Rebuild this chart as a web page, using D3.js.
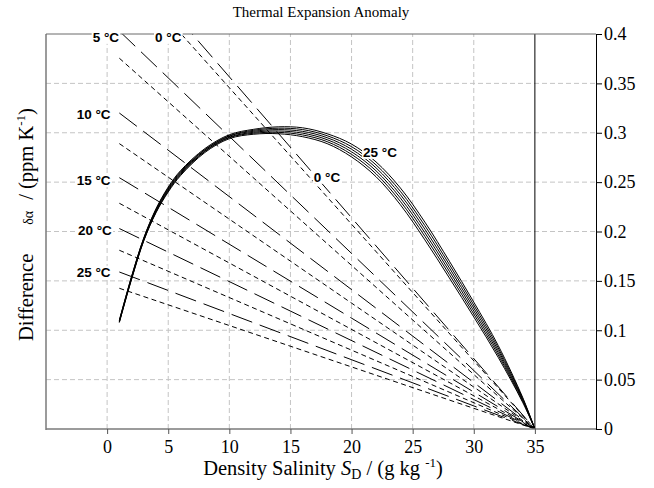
<!DOCTYPE html>
<html>
<head>
<meta charset="utf-8">
<script src="https://cdn.jsdelivr.net/npm/d3@7"></script>
<style>
body { margin: 0; background: #fff; }
text { font-family: "Liberation Serif", "Times New Roman", serif; }
.lbl { font-family: "Liberation Sans", Arial, sans-serif; font-weight: bold; font-size: 13.5px; }
</style>
</head>
<body>
<div class="chart"></div>
<script>
var width = 654, height = 488;

// density salinity grid (g/kg)
var salinity = [1, 2, 3, 4, 5, 6, 8, 10, 12, 14, 16, 18, 20, 22, 24, 26, 28, 30, 32, 34, 35];

// anomaly curves, one per temperature (ppm/K)
var anomT0  = [0.108, 0.1515, 0.1905, 0.219, 0.240, 0.2565, 0.280, 0.294, 0.2985, 0.299, 0.296, 0.289, 0.2755, 0.2555, 0.227, 0.1915, 0.153, 0.1135, 0.0725, 0.027, 0];
var anomT5  = [0.108, 0.152, 0.191, 0.2195, 0.241, 0.2575, 0.281, 0.295, 0.2995, 0.3004, 0.2978, 0.291, 0.2781, 0.2585, 0.2304, 0.1951, 0.1564, 0.1165, 0.0749, 0.028, 0];
var anomT10 = [0.109, 0.1525, 0.1915, 0.2205, 0.242, 0.2585, 0.2815, 0.2955, 0.3005, 0.3018, 0.2996, 0.293, 0.2807, 0.2615, 0.2338, 0.1987, 0.1598, 0.1195, 0.0773, 0.029, 0];
var anomT15 = [0.109, 0.1535, 0.1925, 0.2215, 0.243, 0.2595, 0.2825, 0.2965, 0.3015, 0.3032, 0.3014, 0.295, 0.2833, 0.2645, 0.2372, 0.2023, 0.1632, 0.1225, 0.0797, 0.030, 0];
var anomT20 = [0.110, 0.154, 0.193, 0.2225, 0.244, 0.2605, 0.283, 0.297, 0.3025, 0.3046, 0.3032, 0.297, 0.2859, 0.2675, 0.2406, 0.2059, 0.1666, 0.1255, 0.0821, 0.031, 0];
var anomT25 = [0.110, 0.1545, 0.1935, 0.223, 0.245, 0.2615, 0.284, 0.298, 0.3035, 0.306, 0.305, 0.299, 0.2885, 0.2705, 0.244, 0.2095, 0.170, 0.1285, 0.0845, 0.032, 0];

var temps = [0, 5, 10, 15, 20, 25];
var tempLabels = ["0 °C", "5 °C", "10 °C", "15 °C", "20 °C", "25 °C"];

// straight approximations: value at S = 1, they all go to zero at S = 35
var longDashStart  = [0.485, 0.403, 0.320, 0.2545, 0.203, 0.159];
var shortDashStart = [0.470, 0.3755, 0.289, 0.2286, 0.181, 0.1425];
var lineS0 = 1, lineS1 = 35;

var xTicks = [0, 5, 10, 15, 20, 25, 30, 35];
var yTicks = [0, 0.05, 0.1, 0.15, 0.2, 0.25, 0.3, 0.35, 0.4];
var yTickLabels = ["0", "0.05", "0.1", "0.15", "0.2", "0.25", "0.3", "0.35", "0.4"];

// where the temperature labels sit (S, anomaly)
var leftLabelS = [5.0, -0.1, -1.1, -1.1, -1.0, -1.1];
var leftLabelD = [0.397, 0.397, 0.319, 0.252, 0.2015, 0.159];
var curveLabelText = ["25 °C", "0 °C"];
var curveLabelS = [22.33, 17.99];
var curveLabelD = [0.2805, 0.2552];

var x = d3.scaleLinear().domain([-5, 40]).range([46, 596]);
var y = d3.scaleLinear().domain([0, 0.4]).range([429, 34]);

var svg = d3.select(".chart").append("svg")
  .attr("width", width)
  .attr("height", height);

svg.append("rect").attr("width", width).attr("height", height).attr("fill", "#fff");

svg.append("clipPath").attr("id", "plotclip")
  .append("rect")
  .attr("x", x(-5)).attr("y", y(0.4))
  .attr("width", x(40) - x(-5)).attr("height", y(0) - y(0.4));

// grid
var grid = svg.append("g").attr("stroke", "#c4c4c4").attr("stroke-width", 1).attr("stroke-dasharray", "5,3");
grid.selectAll(".vg").data(xTicks.slice(0, -1)).enter().append("line")
  .attr("x1", function (d) { return x(d); }).attr("x2", function (d) { return x(d); })
  .attr("y1", y(0)).attr("y2", y(0.4));
grid.selectAll(".hg").data(yTicks.slice(1, -1)).enter().append("line")
  .attr("x1", x(-5)).attr("x2", x(40))
  .attr("y1", function (d) { return y(d); }).attr("y2", function (d) { return y(d); });

var plot = svg.append("g").attr("clip-path", "url(#plotclip)");
var line = d3.line().x(function (d) { return x(d[0]); }).y(function (d) { return y(d[1]); });

function straight(v) { return [[lineS0, v], [lineS1, 0]]; }

plot.selectAll(".ld").data(longDashStart).enter().append("path")
  .attr("d", function (d) { return line(straight(d)); })
  .attr("fill", "none").attr("stroke", "#000").attr("stroke-width", 1)
  .attr("stroke-dasharray", "22,8");

plot.selectAll(".sd").data(shortDashStart).enter().append("path")
  .attr("d", function (d) { return line(straight(d)); })
  .attr("fill", "none").attr("stroke", "#000").attr("stroke-width", 1)
  .attr("stroke-dasharray", "5,3.5");

var curves = [anomT0, anomT5, anomT10, anomT15, anomT20, anomT25];
var smooth = d3.line().curve(d3.curveCatmullRom.alpha(0.5))
  .x(function (d) { return x(d[0]); }).y(function (d) { return y(d[1]); });

plot.selectAll(".cv").data(curves).enter().append("path")
  .attr("d", function (c) { return smooth(salinity.map(function (s, i) { return [s, c[i]]; })); })
  .attr("fill", "none").attr("stroke", "#000").attr("stroke-width", 1);

// reference salinity 35
svg.append("line")
  .attr("x1", x(35)).attr("x2", x(35)).attr("y1", y(0)).attr("y2", y(0.4))
  .attr("stroke", "#000").attr("stroke-width", 1);

// frame
svg.append("line").attr("x1", x(-5)).attr("x2", x(-5)).attr("y1", y(0.4)).attr("y2", y(0) + 1)
  .attr("stroke", "#7a7a7a").attr("stroke-width", 1.5);
svg.append("line").attr("x1", x(-5)).attr("x2", x(40)).attr("y1", y(0)).attr("y2", y(0))
  .attr("stroke", "#7a7a7a").attr("stroke-width", 1.5);
svg.append("line").attr("x1", x(-5)).attr("x2", x(40)).attr("y1", y(0.4)).attr("y2", y(0.4))
  .attr("stroke", "#6a6a6a").attr("stroke-width", 1);

// bottom axis
var xAxis = svg.append("g").attr("transform", "translate(0," + y(0) + ")")
  .call(d3.axisBottom(x).tickValues(xTicks).tickSize(5).tickPadding(6).tickFormat(d3.format("d")));
xAxis.select(".domain").remove();
xAxis.selectAll("line").attr("stroke", "#555");
xAxis.selectAll("text").attr("font-size", 18).attr("font-family", "Liberation Serif, serif").attr("fill", "#000");

// right axis
var yAxis = svg.append("g").attr("transform", "translate(" + x(40) + ",0)")
  .call(d3.axisRight(y).tickValues(yTicks).tickSize(6).tickPadding(2)
    .tickFormat(function (d, i) { return yTickLabels[i]; }));
yAxis.select(".domain").attr("stroke", "#000").attr("d", "M0.5," + y(0.4) + "V" + y(0));
yAxis.selectAll("line").attr("stroke", "#000");
yAxis.selectAll("text").attr("font-size", 18).attr("font-family", "Liberation Serif, serif").attr("fill", "#000");

// labels with white backing
function addLabel(t, px, py) {
  var g = svg.append("g");
  var bg = g.append("rect").attr("fill", "#fff");
  var tx = g.append("text").attr("class", "lbl")
    .attr("x", px).attr("y", py).attr("dy", "0.36em")
    .attr("text-anchor", "middle").text(t);
  var b = tx.node().getBBox();
  bg.attr("x", b.x - 1).attr("y", b.y + 1).attr("width", b.width + 2).attr("height", b.height - 2);
}
temps.forEach(function (t, i) {
  addLabel(tempLabels[i], x(leftLabelS[i]), y(leftLabelD[i]));
});
curveLabelText.forEach(function (t, i) {
  addLabel(t, x(curveLabelS[i]), y(curveLabelD[i]));
});

// titles
svg.append("text").attr("x", 321).attr("y", 17).attr("text-anchor", "middle")
  .attr("font-size", 15).text("Thermal Expansion Anomaly");

var xl = svg.append("text").attr("x", 323).attr("y", 475).attr("text-anchor", "middle").attr("font-size", 20.5);
xl.append("tspan").text("Density Salinity ");
xl.append("tspan").attr("font-style", "italic").text("S");
xl.append("tspan").attr("font-size", 14).attr("dy", 4).text("D");
xl.append("tspan").attr("dy", -4).text(" / (g kg ");
xl.append("tspan").attr("font-size", 13).attr("dy", -8).text("-1");
xl.append("tspan").attr("dy", 8).text(")");

var yl = svg.append("text").attr("transform", "translate(33,341) rotate(-90)").attr("font-size", 20.5);
yl.append("tspan").text("Difference");
yl.append("tspan").attr("dx", 29).attr("font-size", 14).text("δα");
yl.append("tspan").attr("dx", 11).text("/ (ppm K");
yl.append("tspan").attr("font-size", 13).attr("dy", -8).text("-1");
yl.append("tspan").attr("dy", 8).text(")");
</script>
</body>
</html>
